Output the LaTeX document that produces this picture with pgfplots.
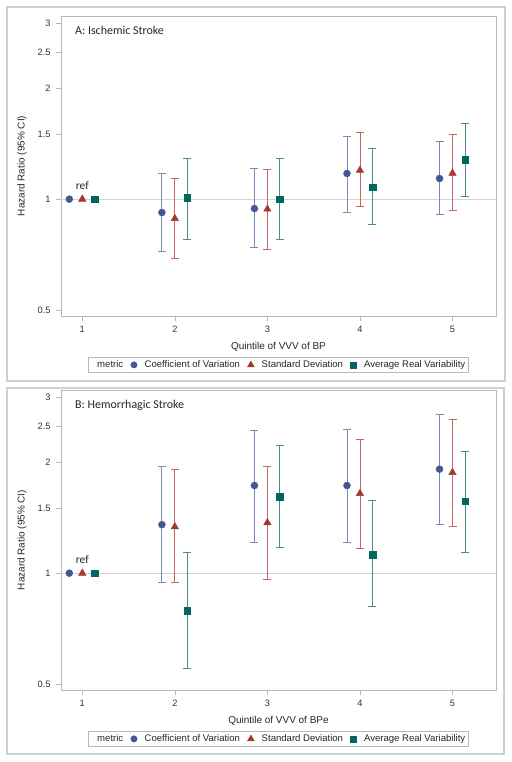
\documentclass[border=0pt]{standalone}
\usepackage{fontspec}
\setmainfont{Liberation Sans}
\newfontfamily\titlefont{Carlito}
\usepackage{pgfplots}
\usepackage{pgfplotstable}
\pgfplotsset{compat=1.18}
\definecolor{cvB}{HTML}{445694}
\definecolor{cvL}{HTML}{7E88B6}
\definecolor{sdB}{HTML}{A23A2E}
\definecolor{sdL}{HTML}{C2665E}
\definecolor{arB}{HTML}{01665E}
\definecolor{arL}{HTML}{4A8D86}
\definecolor{axgray}{HTML}{B8B8B8}
\definecolor{refgray}{HTML}{D4D4D4}
\definecolor{framegray}{HTML}{D0D0D0}

% Panel A data: x, y, lo, hi
\pgfplotstableread{
x y lo hi
1.86 0.920 0.723 1.178
2.86 0.943 0.740 1.211
3.86 1.174 0.920 1.482
4.86 1.138 0.909 1.436
}\Acv
\pgfplotstableread{
x y lo hi
2 0.886 0.692 1.138
3 0.940 0.732 1.208
4 1.198 0.953 1.516
5 1.176 0.930 1.503
}\Asd
\pgfplotstableread{
x y lo hi
2.135 1.008 0.780 1.294
3.135 1.000 0.780 1.294
4.135 1.078 0.852 1.372
5.135 1.278 1.019 1.607
}\Aarv
% Panel B data
\pgfplotstableread{
x y lo hi
1.86 1.354 0.945 1.943
2.86 1.729 1.210 2.440
3.86 1.729 1.210 2.456
4.86 1.915 1.359 2.697
}\Bcv
\pgfplotstableread{
x y lo hi
2 1.337 0.945 1.912
3 1.371 0.960 1.950
4 1.645 1.165 2.300
5 1.876 1.342 2.614
}\Bsd
\pgfplotstableread{
x y lo hi
2.135 0.792 0.550 1.141
3.135 1.614 1.177 2.216
4.135 1.124 0.812 1.577
5.135 1.567 1.141 2.134
}\Barv

\begin{document}
\begin{tikzpicture}
\useasboundingbox (0,0) rectangle (512bp,762bp);
\fill[white] (0,0) rectangle (512bp,762bp);
\draw[framegray, line width=1.2bp] (7bp,381bp) rectangle (505bp,755bp);
\draw[framegray, line width=1.2bp] (7bp,8bp) rectangle (504bp,374bp);

% Panel A
\begin{axis}[at={(61bp,446bp)}, anchor=south west,
    scale only axis, width=435bp, height=300bp,
    ymode=log, ymin=0.482, ymax=3.14, xmin=0.77, xmax=5.47,
    xtick={1,2,3,4,5}, xticklabels={1,2,3,4,5},
    ytick={0.5,1,1.5,2,2.5,3}, yticklabels={0.5,1,1.5,2,2.5,3},
    minor ytick={},
    axis line style={draw=axgray},
    tick style={draw=axgray, line width=0.6pt},
    tick align=outside, major tick length=5bp,
    xtick pos=bottom, ytick pos=left,
    tick label style={font=\fontsize{9.3}{10}\selectfont, text=black!80},
    xticklabel style={yshift=-2bp},
    yticklabel style={xshift=-2bp},
    label style={font=\fontsize{10}{12}\selectfont, text=black!85},
    xlabel style={at={(axis description cs:0.5,-0.103)}, anchor=center},
    ylabel style={at={(axis description cs:-0.0897,0.5)}, anchor=center},
    ylabel={Hazard Ratio (95\% CI)},
    xlabel={Quintile of VVV of BP},
    clip=false,
    legend columns=-1,
    legend style={at={(0.5,-0.163)}, anchor=center,
      draw=axgray, font=\fontsize{9.6}{10.5}\selectfont, text=black!85,
      inner sep=1.2bp, column sep=5.5bp},
    legend cell align=left]
\addlegendimage{empty legend}\addlegendentry{metric\hspace{9bp}}
\addlegendimage{only marks, mark=*, cvB, mark size=3.2bp}\addlegendentry{Coefficient of Variation}
\addlegendimage{only marks, mark=triangle*, sdB, mark size=3.9bp}\addlegendentry{Standard Deviation}
\addlegendimage{only marks, mark=square*, arB, mark size=3bp}\addlegendentry{Average Real Variability}
\addplot[forget plot, refgray, line width=0.8pt] coordinates {(0.77,1) (5.47,1)};
\addplot[forget plot, only marks, mark=*, color=cvB, mark size=3.5bp,
    error bars/y dir=both, error bars/y explicit,
    error bars/error bar style={color=cvL, line width=0.8pt},
    error bars/error mark options={color=cvL, mark size=4bp, line width=0.8pt, rotate=90}]
  table[x=x, y=y, y error plus expr=\thisrow{hi}-\thisrow{y}, y error minus expr=\thisrow{y}-\thisrow{lo}] {\Acv};
\addplot[forget plot, only marks, mark=triangle*, color=sdB, mark size=4.3bp,
    error bars/y dir=both, error bars/y explicit,
    error bars/error bar style={color=sdL, line width=0.8pt},
    error bars/error mark options={color=sdL, mark size=4bp, line width=0.8pt, rotate=90}]
  table[x=x, y=y, y error plus expr=\thisrow{hi}-\thisrow{y}, y error minus expr=\thisrow{y}-\thisrow{lo}] {\Asd};
\addplot[forget plot, only marks, mark=square*, color=arB, mark size=3.3bp,
    error bars/y dir=both, error bars/y explicit,
    error bars/error bar style={color=arL, line width=0.8pt},
    error bars/error mark options={color=arL, mark size=4bp, line width=0.8pt, rotate=90}]
  table[x=x, y=y, y error plus expr=\thisrow{hi}-\thisrow{y}, y error minus expr=\thisrow{y}-\thisrow{lo}] {\Aarv};
\addplot[forget plot, only marks, mark=*, cvB, mark size=3.5bp] coordinates {(0.86,1)};
\addplot[forget plot, only marks, mark=triangle*, sdB, mark size=4.3bp] coordinates {(1,1)};
\addplot[forget plot, only marks, mark=square*, arB, mark size=3.3bp] coordinates {(1.135,1)};
\node[font=\titlefont\fontsize{11.5}{13}\selectfont, text=black!85] at (axis cs:1,1.085) {ref};
\node[anchor=west, font=\titlefont\fontsize{12}{14}\selectfont, text=black!85] at (rel axis cs:0.0246,0.951) {A: Ischemic Stroke};
\end{axis}

% Panel B
\begin{axis}[at={(61bp,72bp)}, anchor=south west,
    scale only axis, width=435bp, height=300bp,
    ymode=log, ymin=0.482, ymax=3.14, xmin=0.77, xmax=5.47,
    xtick={1,2,3,4,5}, xticklabels={1,2,3,4,5},
    ytick={0.5,1,1.5,2,2.5,3}, yticklabels={0.5,1,1.5,2,2.5,3},
    minor ytick={},
    axis line style={draw=axgray},
    tick style={draw=axgray, line width=0.6pt},
    tick align=outside, major tick length=5bp,
    xtick pos=bottom, ytick pos=left,
    tick label style={font=\fontsize{9.3}{10}\selectfont, text=black!80},
    xticklabel style={yshift=-2bp},
    yticklabel style={xshift=-2bp},
    label style={font=\fontsize{10}{12}\selectfont, text=black!85},
    xlabel style={at={(axis description cs:0.5,-0.103)}, anchor=center},
    ylabel style={at={(axis description cs:-0.0897,0.5)}, anchor=center},
    ylabel={Hazard Ratio (95\% CI)},
    xlabel={Quintile of VVV of BPe},
    clip=false,
    legend columns=-1,
    legend style={at={(0.5,-0.163)}, anchor=center,
      draw=axgray, font=\fontsize{9.6}{10.5}\selectfont, text=black!85,
      inner sep=1.2bp, column sep=5.5bp},
    legend cell align=left]
\addlegendimage{empty legend}\addlegendentry{metric\hspace{9bp}}
\addlegendimage{only marks, mark=*, cvB, mark size=3.2bp}\addlegendentry{Coefficient of Variation}
\addlegendimage{only marks, mark=triangle*, sdB, mark size=3.9bp}\addlegendentry{Standard Deviation}
\addlegendimage{only marks, mark=square*, arB, mark size=3bp}\addlegendentry{Average Real Variability}
\addplot[forget plot, refgray, line width=0.8pt] coordinates {(0.77,1) (5.47,1)};
\addplot[forget plot, only marks, mark=*, color=cvB, mark size=3.5bp,
    error bars/y dir=both, error bars/y explicit,
    error bars/error bar style={color=cvL, line width=0.8pt},
    error bars/error mark options={color=cvL, mark size=4bp, line width=0.8pt, rotate=90}]
  table[x=x, y=y, y error plus expr=\thisrow{hi}-\thisrow{y}, y error minus expr=\thisrow{y}-\thisrow{lo}] {\Bcv};
\addplot[forget plot, only marks, mark=triangle*, color=sdB, mark size=4.3bp,
    error bars/y dir=both, error bars/y explicit,
    error bars/error bar style={color=sdL, line width=0.8pt},
    error bars/error mark options={color=sdL, mark size=4bp, line width=0.8pt, rotate=90}]
  table[x=x, y=y, y error plus expr=\thisrow{hi}-\thisrow{y}, y error minus expr=\thisrow{y}-\thisrow{lo}] {\Bsd};
\addplot[forget plot, only marks, mark=square*, color=arB, mark size=3.3bp,
    error bars/y dir=both, error bars/y explicit,
    error bars/error bar style={color=arL, line width=0.8pt},
    error bars/error mark options={color=arL, mark size=4bp, line width=0.8pt, rotate=90}]
  table[x=x, y=y, y error plus expr=\thisrow{hi}-\thisrow{y}, y error minus expr=\thisrow{y}-\thisrow{lo}] {\Barv};
\addplot[forget plot, only marks, mark=*, cvB, mark size=3.5bp] coordinates {(0.86,1)};
\addplot[forget plot, only marks, mark=triangle*, sdB, mark size=4.3bp] coordinates {(1,1)};
\addplot[forget plot, only marks, mark=square*, arB, mark size=3.3bp] coordinates {(1.135,1)};
\node[font=\titlefont\fontsize{11.5}{13}\selectfont, text=black!85] at (axis cs:1,1.085) {ref};
\node[anchor=west, font=\titlefont\fontsize{12}{14}\selectfont, text=black!85] at (rel axis cs:0.0246,0.948) {B: Hemorrhagic Stroke};
\end{axis}
\end{tikzpicture}
\end{document}
